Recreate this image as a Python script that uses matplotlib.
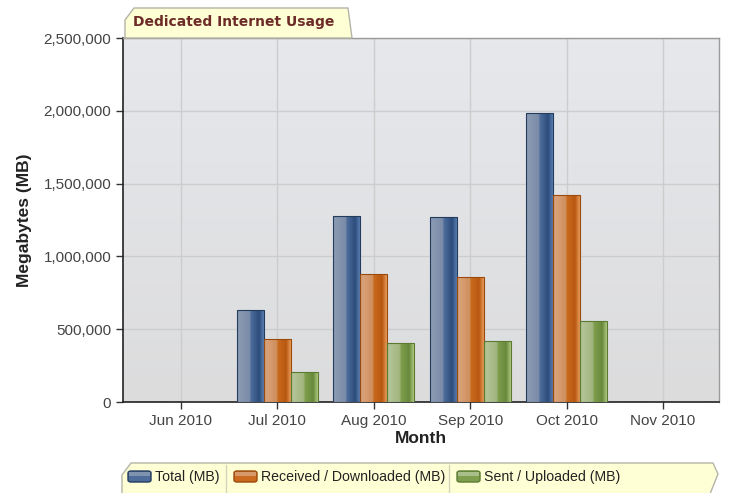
import matplotlib
matplotlib.use("Agg")
import matplotlib.pyplot as plt
import numpy as np
from matplotlib.patches import Polygon, FancyBboxPatch
from matplotlib.colors import LinearSegmentedColormap
from matplotlib.ticker import FuncFormatter

plt.rcParams['font.family'] = ['Liberation Sans', 'DejaVu Sans']

# data
months = ['Jun 2010', 'Jul 2010', 'Aug 2010', 'Sep 2010', 'Oct 2010', 'Nov 2010']
total_mb = [0, 635000, 1275000, 1268000, 1982000, 0]
received_mb = [0, 430000, 876000, 858000, 1420000, 0]
sent_mb = [0, 205000, 402000, 417000, 555000, 0]
series_names = ['Total (MB)', 'Received / Downloaded (MB)', 'Sent / Uploaded (MB)']
y_ticks = [0, 500000, 1000000, 1500000, 2000000, 2500000]

# 渐变色 (left -> right across each bar)
grad_colors = [
    ['#8c9cb4', '#7a8ca8', '#4d6c9a', '#2c4c7c', '#6088ba'],
    ['#dba67e', '#d08f5e', '#c96a1e', '#b85810', '#f2aa6a'],
    ['#b6c69a', '#a2b680', '#7f9f4e', '#68893a', '#bcd48e'],
]
edge_colors = ['#233c5e', '#9a4a0c', '#5a7a32']
cmaps = [LinearSegmentedColormap.from_list('g%d' % i, list(zip([0, 0.45, 0.5, 0.8, 1.0], c)))
         for i, c in enumerate(grad_colors)]

W, H = 730, 493
fig = plt.figure(figsize=(W / 100, H / 100), dpi=100)


def fx(px):
    return px / W


def fy(py):
    return 1 - py / H


ax = fig.add_axes([fx(123), fy(402), fx(719) - fx(123), fy(38) - fy(402)])
ax.set_xlim(-0.6, 5.58)
ax.set_ylim(0, 2500000)

# plot background gradient
bg = LinearSegmentedColormap.from_list('bg', ['#dcdcdd', '#e6e8ec'])
ax.imshow(np.linspace(0, 1, 100).reshape(-1, 1), cmap=bg, aspect='auto', origin='lower',
          extent=[-0.6, 5.58, 0, 2500000], zorder=0)

ax.set_xticks(range(len(months)))
ax.set_xticklabels(months)
ax.set_yticks(y_ticks)
ax.yaxis.set_major_formatter(FuncFormatter(lambda v, p: '{:,.0f}'.format(v)))
ax.grid(True, color='#cdcdcd', linewidth=1.0, zorder=1)
ax.set_axisbelow(True)

bar_w = 0.28
x = np.arange(len(months))
all_series = [total_mb, received_mb, sent_mb]
for k, vals in enumerate(all_series):
    xs = x + (k - 1) * bar_w
    bars = ax.bar(xs, vals, width=bar_w, color='none', edgecolor=edge_colors[k],
                  linewidth=0.8, zorder=4)
    for b in bars:
        if b.get_height() <= 0:
            continue
        x0 = b.get_x()
        im = ax.imshow(np.linspace(0, 1, 64).reshape(1, -1), cmap=cmaps[k], aspect='auto',
                       extent=[x0, x0 + bar_w, 0, b.get_height()], zorder=3)
        im.set_clip_path(b)

ax.set_xlim(-0.6, 5.58)
ax.set_ylim(0, 2500000)

for s in ['left', 'bottom']:
    ax.spines[s].set_color('#222222')
    ax.spines[s].set_linewidth(1.2)
for s in ['top', 'right']:
    ax.spines[s].set_color('#9a9a9a')
    ax.spines[s].set_linewidth(1.0)
ax.tick_params(axis='both', colors='#333333', labelcolor='#444444', labelsize=11, length=5, width=1)

ax.set_xlabel('Month', fontsize=12.5, fontweight='bold', color='#222222', labelpad=2)
ax.set_ylabel('Megabytes (MB)', fontsize=12.5, fontweight='bold', color='#222222', labelpad=8)

# title tab
tab = Polygon([(fx(125), fy(38)), (fx(125), fy(20)), (fx(134), fy(8)), (fx(348), fy(8)),
               (fx(352), fy(38))], closed=True, transform=fig.transFigure,
              facecolor='#ffffd6', edgecolor='#b4b4a8', linewidth=1.0, zorder=5)
fig.patches.append(tab)
fig.text(fx(133), fy(22), 'Dedicated Internet Usage', fontsize=10, fontweight='bold',
         color='#6e2c28', va='center', ha='left', family=['DejaVu Sans'], zorder=10)

# legend tab
leg = Polygon([(fx(122), fy(494)), (fx(122), fy(475)), (fx(131), fy(463)), (fx(713), fy(463)),
               (fx(718), fy(474)), (fx(710), fy(494))], closed=True, transform=fig.transFigure,
              facecolor='#ffffd6', edgecolor='#b4b4a8', linewidth=1.0, zorder=5)
fig.patches.append(leg)
sw_x = [128, 234, 457]
txt_x = [155, 261, 484]
for k in range(3):
    sw = FancyBboxPatch((fx(sw_x[k]), fy(482)), fx(23), fy(471) - fy(482),
                        boxstyle='round,pad=0,rounding_size=0.004', transform=fig.transFigure,
                        facecolor=grad_colors[k][2], edgecolor=edge_colors[k], linewidth=1.0, zorder=6)
    fig.patches.append(sw)
    hl = FancyBboxPatch((fx(sw_x[k] + 1), fy(476)), fx(21), fy(472) - fy(476),
                        boxstyle='square,pad=0', transform=fig.transFigure,
                        facecolor=grad_colors[k][0], edgecolor='none', alpha=0.8, zorder=7)
    fig.patches.append(hl)
    fig.text(fx(txt_x[k]), fy(477), series_names[k], fontsize=10.2, color='#222222',
             va='center', ha='left', zorder=8)
for sx in [226, 449]:
    fig.lines.append(plt.Line2D([fx(sx), fx(sx)], [fy(465), fy(492)], transform=fig.transFigure,
                                color='#d4d4b8', linewidth=1.0, zorder=7))

fig.savefig('out.png', dpi=100)
